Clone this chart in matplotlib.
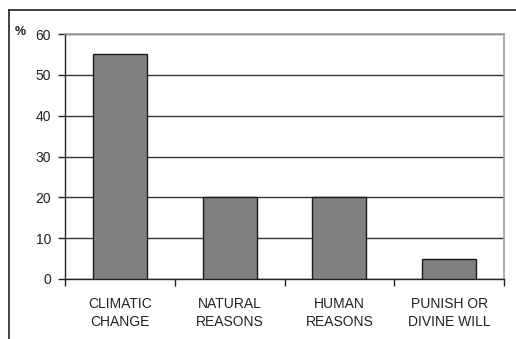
import matplotlib
matplotlib.use("Agg")
import matplotlib.pyplot as plt
from matplotlib.lines import Line2D

categories = ["CLIMATIC\nCHANGE", "NATURAL\nREASONS", "HUMAN\nREASONS", "PUNISH OR\nDIVINE WILL"]
values = [55, 20, 20, 5]
yticks = [0, 10, 20, 30, 40, 50, 60]

plt.rcParams['font.family'] = ['Liberation Sans', 'DejaVu Sans']

W, H = 516, 339
fig = plt.figure(figsize=(W/100, H/100), dpi=100)
ax = fig.add_axes([65/W, 1-279/H, (504-65)/W, (279-34)/H])

x = list(range(len(categories)))
ax.bar(x, values, width=0.49, color='#808080', edgecolor='#1a1a1a', linewidth=1.0, zorder=3)

ax.set_xlim(-0.5, len(categories)-0.5)
ax.set_ylim(0, 60)
ax.set_yticks(yticks)
ax.set_yticklabels([str(v) for v in yticks], fontsize=10, color='#222222')
ax.yaxis.grid(True, color='#333333', linewidth=1.0, zorder=1)
ax.tick_params(axis='y', length=5, width=1, color='#222222', pad=5)

ax.set_xticks(x)
ax.set_xticklabels(categories, fontsize=10, color='#222222', linespacing=1.4)
ax.tick_params(axis='x', which='major', length=0, pad=13)
ax.set_xticks([i-0.5 for i in range(len(categories)+1)], minor=True)
ax.tick_params(axis='x', which='minor', length=5, width=1, color='#222222')

for s in ['left', 'bottom']:
    ax.spines[s].set_color('#222222')
    ax.spines[s].set_linewidth(1.0)
for s in ['top', 'right']:
    ax.spines[s].set_color('#a0a0a0')
    ax.spines[s].set_linewidth(1.2)
ax.set_axisbelow(True)

fig.text(20/W, 1-32/H, "%", fontsize=9, fontweight='bold', color='#222222', ha='center', va='center')

fig.add_artist(Line2D([8.5/W, 1.0], [1-9.5/H, 1-9.5/H], color='#222222', linewidth=1.2, transform=fig.transFigure))
fig.add_artist(Line2D([8.5/W, 8.5/W], [0.0, 1-9.5/H], color='#222222', linewidth=1.2, transform=fig.transFigure))

fig.savefig("out.png", dpi=100)
